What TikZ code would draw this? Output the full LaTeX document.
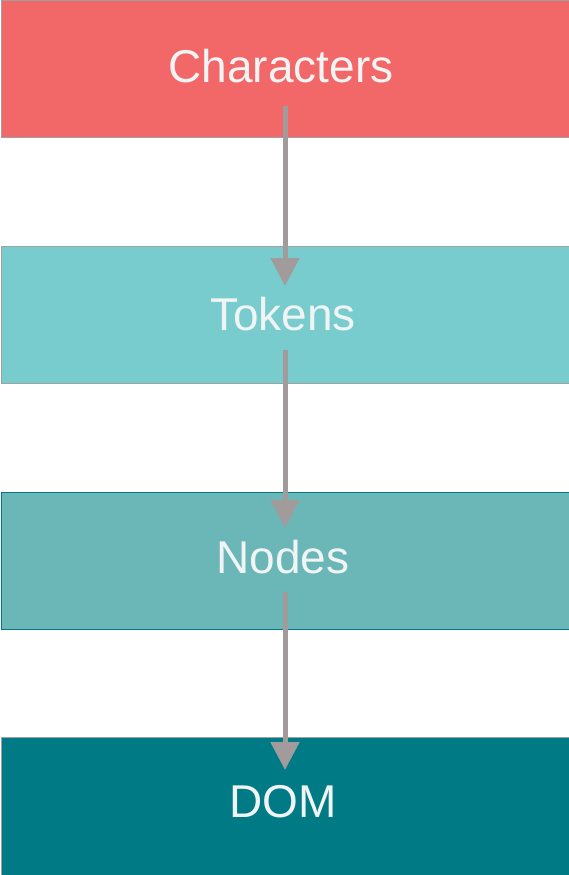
\documentclass[tikz,border=0pt]{standalone}
\usepackage{fontspec}
\setmainfont{Liberation Sans}
\usetikzlibrary{arrows.meta}
\definecolor{cchar}{HTML}{F26868}
\definecolor{ctok}{HTML}{79CCCD}
\definecolor{cnod}{HTML}{6BB7B7}
\definecolor{cdom}{HTML}{007B86}
\definecolor{cedge}{HTML}{A0A0A0}
\definecolor{carrow}{HTML}{A19B9B}
\definecolor{ctext}{HTML}{F0F4F5}
\tikzset{
  box/.style={rectangle, draw=cedge, line width=1pt, minimum width=568pt, minimum height=137pt, inner sep=0pt, anchor=north west},
  lbl/.style={text=ctext, font=\fontsize{46}{50}\selectfont, anchor=base, inner sep=0pt},
  flow/.style={draw=carrow, line width=5pt, -{Triangle[width=28pt,length=28pt]}, shorten >=0pt}
}
\begin{document}
\begin{tikzpicture}[x=1pt,y=-1pt]
\useasboundingbox (0,0) rectangle (569,875);
\node[box, fill=cchar] (chars) at (0.5,0) {};
\node[box, fill=ctok] (toks) at (0.5,246) {};
\node[box, fill=cnod, draw=cdom] (nods) at (0.5,492) {};
\node[box, fill=cdom, minimum height=138pt] (dom) at (0.5,737) {};
\node[lbl] (tchars) at (281,82) {Characters};
\node[lbl] (ttoks) at (283,330) {Tokens};
\node[lbl] (tnods) at (283,573) {Nodes};
\node[lbl] (tdom) at (283,817) {DOM};
\coordinate (a1s) at (285,106);
\coordinate (a1e) at (285,286);
\coordinate (a2s) at (285,350);
\coordinate (a2e) at (285,528);
\coordinate (a3s) at (285,592);
\coordinate (a3e) at (285,770);
\draw[flow] (a1s) -- (a1e);
\draw[flow] (a2s) -- (a2e);
\draw[flow] (a3s) -- (a3e);
\end{tikzpicture}
\end{document}
